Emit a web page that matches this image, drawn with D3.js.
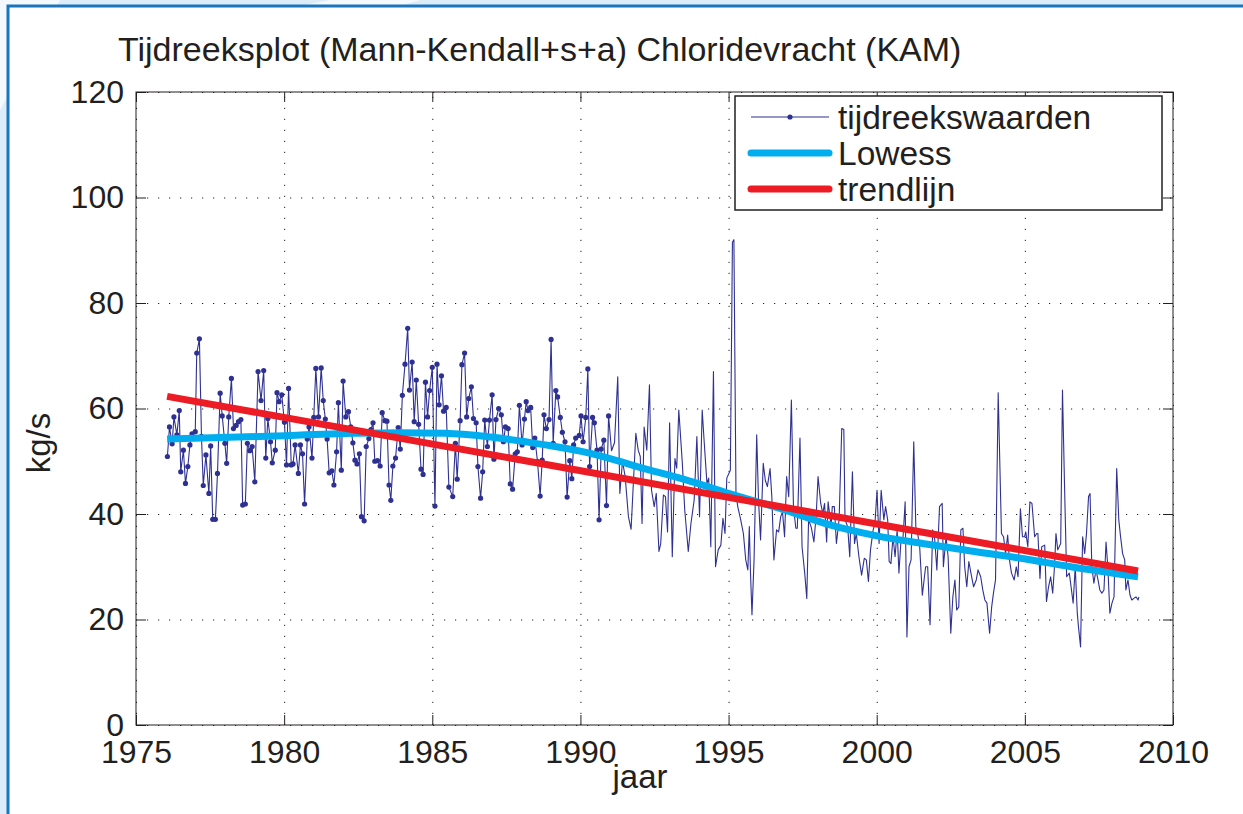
<!DOCTYPE html>
<html>
<head>
<meta charset="utf-8">
<script src="https://cdn.jsdelivr.net/npm/d3@7"></script>
<style>
  body { margin: 0; background: #fff; }
  svg text { font-family: "Liberation Sans", Arial, Helvetica, sans-serif; fill: #231f20; }
</style>
</head>
<body>
<div id="chart"></div>
<script>
// tijdreekswaarden, maandelijks met markers (1976 - 1990)
var monthYears = [1976.06,1976.13,1976.22,1976.28,1976.38,1976.46,1976.51,1976.60,1976.67,1976.75,1976.82,1976.89,
  1977.00,1977.05,1977.14,1977.21,1977.27,1977.36,1977.46,1977.52,1977.59,1977.68,1977.75,1977.84,1977.91,
  1978.00,1978.06,1978.13,1978.22,1978.29,1978.38,1978.46,1978.54,1978.60,1978.69,1978.76,1978.84,1978.92,
  1979.01,1979.12,1979.22,1979.31,1979.38,1979.45,1979.54,1979.60,1979.70,1979.76,1979.83,1979.92,
  1980.01,1980.08,1980.15,1980.24,1980.30,1980.37,1980.48,1980.55,1980.62,1980.69,1980.78,1980.84,1980.94,
  1981.00,1981.07,1981.16,1981.25,1981.32,1981.39,1981.45,1981.52,1981.61,1981.68,1981.77,1981.83,1981.93,1981.99,
  1982.08,1982.17,1982.25,1982.32,1982.39,1982.46,1982.54,1982.61,1982.70,1982.77,1982.86,1982.93,
  1983.00,1983.06,1983.15,1983.24,1983.31,1983.40,1983.47,1983.54,1983.60,1983.67,1983.76,1983.85,1983.92,1983.99,
  1984.08,1984.17,1984.23,1984.32,1984.39,1984.46,1984.54,1984.62,1984.69,1984.77,1984.84,1984.91,
  1985.00,1985.09,1985.16,1985.23,1985.31,1985.38,1985.47,1985.56,1985.69,1985.78,1985.84,1985.94,
  1986.00,1986.09,1986.16,1986.23,1986.32,1986.39,1986.48,1986.54,1986.63,1986.70,1986.77,1986.86,1986.93,
  1987.02,1987.08,1987.15,1987.24,1987.33,1987.40,1987.47,1987.56,1987.63,1987.71,1987.80,1987.87,1987.94,
  1988.03,1988.11,1988.17,1988.23,1988.32,1988.39,1988.46,1988.55,1988.64,1988.71,1988.77,1988.85,1988.94,
  1989.01,1989.08,1989.17,1989.23,1989.32,1989.39,1989.48,1989.55,1989.64,1989.71,1989.77,1989.84,1989.96,
  1990.02,1990.09,1990.18,1990.25,1990.31,1990.41,1990.47,1990.56,1990.63,1990.70,1990.79,1990.88,1990.95];
var monthValues = [50.9,56.5,53.3,58.4,55,59.6,48,52.1,45.8,49,53.1,55.2,
  55.6,70.5,73.2,54.7,45.4,51.2,43.9,52.9,39,39,47.7,62.9,58.6,
  53.4,49.6,58.4,65.7,56.2,56.8,57.5,57.9,41.7,41.9,53.4,52,52.8,
  46.1,67,61.5,67.2,50.6,58.1,53.7,49.7,52.1,63,61.3,62.6,
  57.4,49.3,63.8,49.3,49.5,53.1,47.7,53.1,51.4,41.9,54.2,56.5,50.6,
  58.3,67.6,58.4,67.7,61.5,58,54.2,47.8,48.2,45.5,51.8,61.1,48.3,65.2,
  58.4,59.4,56.5,53.5,50.2,49.5,51.4,39.5,38.7,52.8,54.3,56,
  57.3,50,50.1,49.1,59.2,57.7,57.6,45.5,42.6,49.1,50.6,56.4,52.3,62.5,
  68.4,75.2,63.5,68.8,57.5,65.4,57,48.5,47.5,65,58.4,63.4,
  67.8,41.5,68.4,60.7,66.2,59.5,60.2,45.1,43.3,53.4,46.6,57.7,
  68.3,70.5,58.4,61.9,64.1,58.1,57.3,49,43,48,57.8,52.8,57.8,
  62.6,50.4,57.9,60,58.8,53.7,56.5,56.2,45.7,44.7,51.4,51.8,60.6,
  53.1,58,61.3,59.6,60.2,52.6,54.4,50,43.4,50.2,58.8,56.2,57.9,
  73.1,53.4,63.4,62.2,58.3,55.5,53.7,43.2,50.1,46.7,53.1,54.4,54.9,
  58.6,53.7,58.3,67.5,49,58.3,57.3,52.1,38.9,52.3,54,41.6,58.6];

// tijdreekswaarden, dichter gemeten zonder markers (1991 - 2008)
var denseYears = [1991.05,1991.15,1991.26,1991.33,1991.42,1991.51,1991.62,1991.71,1991.87,1991.95,
  1992.02,1992.08,1992.15,1992.24,1992.33,1992.40,1992.49,1992.56,1992.65,1992.71,1992.80,1992.87,1992.94,
  1993.01,1993.10,1993.19,1993.25,1993.32,1993.44,1993.52,1993.64,1993.73,1993.84,1993.93,
  1994.02,1994.11,1994.18,1994.27,1994.33,1994.40,1994.49,1994.56,1994.65,1994.74,1994.81,1994.88,1994.94,
  1995.06,1995.13,1995.18,1995.25,1995.31,1995.41,1995.50,1995.58,1995.65,1995.70,1995.74,1995.79,1995.86,1995.95,
  1996.01,1996.08,1996.17,1996.24,1996.31,1996.40,1996.46,1996.53,1996.62,1996.69,1996.76,1996.82,1996.89,1996.96,
  1997.03,1997.12,1997.19,1997.27,1997.32,1997.41,1997.48,1997.57,1997.64,1997.70,1997.79,1997.88,1997.96,
  1998.02,1998.11,1998.18,1998.24,1998.31,1998.36,1998.46,1998.50,1998.57,1998.64,1998.73,1998.82,1998.89,1998.93,
  1999.02,1999.09,1999.18,1999.25,1999.31,1999.40,1999.49,1999.58,1999.65,1999.72,1999.79,1999.88,1999.94,
  2000.01,2000.08,2000.15,2000.24,2000.30,2000.37,2000.42,2000.48,2000.55,2000.62,2000.69,2000.75,2000.82,2000.89,2000.96,
  2001.02,2001.09,2001.16,2001.25,2001.32,2001.39,2001.45,2001.54,2001.65,2001.72,2001.80,2001.89,2001.96,
  2002.03,2002.12,2002.21,2002.25,2002.34,2002.41,2002.50,2002.57,2002.64,2002.70,2002.77,2002.84,2002.91,2002.97,
  2003.04,2003.11,2003.18,2003.27,2003.36,2003.42,2003.51,2003.58,2003.65,2003.72,2003.81,2003.88,2003.94,
  2004.01,2004.10,2004.21,2004.28,2004.35,2004.42,2004.48,2004.55,2004.64,2004.71,2004.77,2004.85,2004.92,2004.99,
  2005.03,2005.10,2005.17,2005.24,2005.33,2005.40,2005.44,2005.51,2005.57,2005.67,2005.73,2005.80,2005.87,2005.94,
  2006.00,2006.05,2006.11,2006.21,2006.27,2006.34,2006.41,2006.50,2006.56,2006.63,2006.70,2006.77,2006.81,2006.88,2006.95,
  2007.02,2007.08,2007.15,2007.20,2007.26,2007.33,2007.40,2007.47,2007.53,2007.60,2007.67,2007.74,2007.80,2007.87,2007.94,
  2008.01,2008.10,2008.17,2008.23,2008.30,2008.37,2008.41,2008.48,2008.55,2008.61,2008.68,2008.75,2008.82,2008.85];
var denseValues = [52,53.5,66,43.9,50,47.1,39.5,37.1,55.3,52.1,
  50.9,38.2,56.5,52.1,64.5,44.5,41.4,43.9,32.9,34.4,43.6,43.3,36.6,
  57.3,31.9,50.5,48.7,59.7,49.6,40.8,32.9,38.2,42.7,54.7,
  39.5,59.7,53.4,45.8,46.8,33.8,67,30,33.2,34.1,39.2,36.3,46.8,
  48.3,91.5,92,43.9,41.4,38.9,36.3,31.3,29.4,37.6,28.8,20.9,31.3,55,
  42.7,35.1,49.6,46.4,45.2,48.6,43.3,31.3,37,36.6,39.5,40.4,35.7,47.1,
  43.3,61.6,41.4,37.3,37.3,54.4,33.8,28.8,24,38.9,37.5,34.7,40,
  47.1,42,40.1,42,34.7,42.3,37.6,41.4,41.4,34.4,38.9,56.2,56,38.9,
  37.6,31.9,48,34.4,36.3,31.9,28.4,31.6,31.3,27.2,33.2,37,38.2,
  44.5,34.4,44.5,38.9,41.4,38.9,31,30.6,35.7,31.9,37,28.8,35.1,35.7,42.3,
  16.7,30,31.3,53.7,37.6,36,33.8,24.6,30,30,19,37,35.1,
  29.4,41.4,42,30,35.7,31.9,17.4,24.3,27.5,21.8,22.4,37,37.3,30,
  26.2,31,28.8,26.2,27.5,29.4,28.1,25.6,23.7,23.1,17.4,22.4,25,
  27.5,63,36.3,35.7,32.5,36,31.3,28.8,27.5,30,28.1,41,35.7,35.7,
  36.6,33.8,42.3,42,35.7,36.3,36.3,27.8,33.8,34.1,23.4,26.2,28.1,25,
  30,36.3,33.2,34.4,63.5,45.2,28.1,28.8,26.2,23.1,30,21.2,18.6,14.8,35.7,
  32.5,36.3,43.3,43.9,30,26.9,29.4,27.5,25.6,25,25.6,34.7,30,21.2,23.1,
  24.3,48.6,38.9,35.7,32.5,31.3,25.6,27.5,24.6,23.7,24,24.3,23.7,24.3];

// Lowess-curve
var lowessYears = [1976.05,1979.19,1982.4,1983.9,1985.44,1986.96,1988.82,1990.34,1992.03,1993.72,
  1995.14,1996.76,1998.45,1999.97,2001.66,2003.18,2004.86,2006.55,2008.82];
var lowessValues = [54.2,54.7,55.3,55.4,55.3,54.6,53.1,51.5,48.8,46.2,
  43.7,41.0,37.9,35.9,34.3,33.0,31.6,30.0,28.1];

// trendlijn (Mann-Kendall)
var trendYears = [1976.05, 2008.82];
var trendValues = [62.3, 29.2];

var xTicks = [1975, 1980, 1985, 1990, 1995, 2000, 2005, 2010];
var yTicks = [0, 20, 40, 60, 80, 100, 120];
var legendLabels = ["tijdreekswaarden", "Lowess", "trendlijn"];

var svgWidth = 1243;
var svgHeight = 814;
var plot = {left: 136, right: 1173, top: 92, bottom: 725};

var dataColor = "#2e3192";
var lowessColor = "#00aeef";
var trendColor = "#ed1c24";
var inkColor = "#231f20";

var svg = d3.select("#chart")
  .append("svg")
  .attr("width", svgWidth)
  .attr("height", svgHeight);

// achtergrond + blauwe kader
svg.append("rect")
  .attr("width", svgWidth)
  .attr("height", svgHeight)
  .attr("fill", "#dcedf9");
svg.append("path")
  .attr("d", "M0,0 L60,0 L0,110 Z M330,0 L420,0 L400,6 L300,6 Z")
  .attr("fill", "#f4f9fd");
svg.append("rect")
  .attr("x", 8)
  .attr("y", 6)
  .attr("width", svgWidth)
  .attr("height", svgHeight)
  .attr("fill", "#fff")
  .attr("stroke", "#1b75bc")
  .attr("stroke-width", 3);

var x = d3.scaleLinear().domain([1975, 2010]).range([plot.left, plot.right]);
var y = d3.scaleLinear().domain([0, 120]).range([plot.bottom, plot.top]);
var innerW = plot.right - plot.left;
var innerH = plot.bottom - plot.top;

// grid (dotted)
var grid = svg.append("g");
grid.append("g")
  .attr("transform", `translate(0, ${plot.bottom})`)
  .call(d3.axisBottom(x).tickValues(xTicks).tickSize(-innerH).tickFormat(""))
  .call(g => g.select(".domain").remove());
grid.append("g")
  .attr("transform", `translate(${plot.left}, 0)`)
  .call(d3.axisLeft(y).tickValues(yTicks).tickSize(-innerW).tickFormat(""))
  .call(g => g.select(".domain").remove());
grid.selectAll("line")
  .attr("stroke", inkColor)
  .attr("stroke-width", 1)
  .attr("stroke-dasharray", "1.2,9.8");

// data line
var all = monthYears.map((d, i) => ({year: d, value: monthValues[i]}))
  .concat(denseYears.map((d, i) => ({year: d, value: denseValues[i]})));

var line = d3.line().x(d => x(d.year)).y(d => y(d.value));

svg.append("path")
  .datum(all)
  .attr("fill", "none")
  .attr("stroke", dataColor)
  .attr("stroke-width", 1.1)
  .attr("stroke-linejoin", "round")
  .attr("d", line);

svg.append("g")
  .selectAll("circle")
  .data(monthYears)
  .enter()
  .append("circle")
  .attr("cx", d => x(d))
  .attr("cy", (d, i) => y(monthValues[i]))
  .attr("r", 2.6)
  .attr("fill", dataColor);

// lowess + trend
var lowess = lowessYears.map((d, i) => ({year: d, value: lowessValues[i]}));
svg.append("path")
  .datum(lowess)
  .attr("fill", "none")
  .attr("stroke", lowessColor)
  .attr("stroke-width", 7)
  .attr("d", d3.line().curve(d3.curveMonotoneX).x(d => x(d.year)).y(d => y(d.value)));

var trend = trendYears.map((d, i) => ({year: d, value: trendValues[i]}));
svg.append("path")
  .datum(trend)
  .attr("fill", "none")
  .attr("stroke", trendColor)
  .attr("stroke-width", 7)
  .attr("d", line);

// axes box with inward ticks
svg.append("rect")
  .attr("x", plot.left)
  .attr("y", plot.top)
  .attr("width", innerW)
  .attr("height", innerH)
  .attr("fill", "none")
  .attr("stroke", inkColor)
  .attr("stroke-width", 1);

var xAxis = svg.append("g")
  .attr("transform", `translate(0, ${plot.bottom})`)
  .call(d3.axisBottom(x).tickValues(xTicks).tickSize(-10).tickPadding(15).tickFormat(d3.format("d")));
var xTop = svg.append("g")
  .attr("transform", `translate(0, ${plot.top})`)
  .call(d3.axisTop(x).tickValues(xTicks).tickSize(-10).tickFormat(""));
var yAxis = svg.append("g")
  .attr("transform", `translate(${plot.left}, 0)`)
  .call(d3.axisLeft(y).tickValues(yTicks).tickSize(-10).tickPadding(12));
var yRight = svg.append("g")
  .attr("transform", `translate(${plot.right}, 0)`)
  .call(d3.axisRight(y).tickValues(yTicks).tickSize(-10).tickFormat(""));

[xAxis, xTop, yAxis, yRight].forEach(function(a) {
  a.select(".domain").remove();
  a.selectAll("line").attr("stroke", inkColor);
  a.selectAll("text")
    .attr("font-size", 32)
    .attr("font-family", "Liberation Sans, Arial, sans-serif")
    .attr("fill", inkColor);
});

// titles
svg.append("text")
  .attr("x", 118)
  .attr("y", 61)
  .attr("font-size", 34)
  .text("Tijdreeksplot (Mann-Kendall+s+a) Chloridevracht (KAM)");

svg.append("text")
  .attr("x", 640)
  .attr("y", 788)
  .attr("text-anchor", "middle")
  .attr("font-size", 33)
  .text("jaar");

svg.append("text")
  .attr("transform", "translate(50, 443) rotate(-90)")
  .attr("text-anchor", "middle")
  .attr("font-size", 33)
  .text("kg/s");

// legend
var legend = svg.append("g");
legend.append("rect")
  .attr("x", 735)
  .attr("y", 96)
  .attr("width", 427)
  .attr("height", 114)
  .attr("fill", "#fff")
  .attr("stroke", inkColor)
  .attr("stroke-width", 1.5);

var legendRows = [117, 153, 189];
legendLabels.forEach(function(label, i) {
  var ly = legendRows[i];
  if (i === 0) {
    legend.append("line")
      .attr("x1", 751).attr("x2", 829).attr("y1", ly).attr("y2", ly)
      .attr("stroke", dataColor).attr("stroke-width", 1.1);
    legend.append("circle")
      .attr("cx", 790).attr("cy", ly).attr("r", 2.6).attr("fill", dataColor);
  } else {
    legend.append("line")
      .attr("x1", 751).attr("x2", 829).attr("y1", ly).attr("y2", ly)
      .attr("stroke", i === 1 ? lowessColor : trendColor)
      .attr("stroke-width", 7)
      .attr("stroke-linecap", "round");
  }
  legend.append("text")
    .attr("x", 838)
    .attr("y", ly)
    .attr("dy", "0.35em")
    .attr("font-size", 33.5)
    .text(label);
});
</script>
</body>
</html>
